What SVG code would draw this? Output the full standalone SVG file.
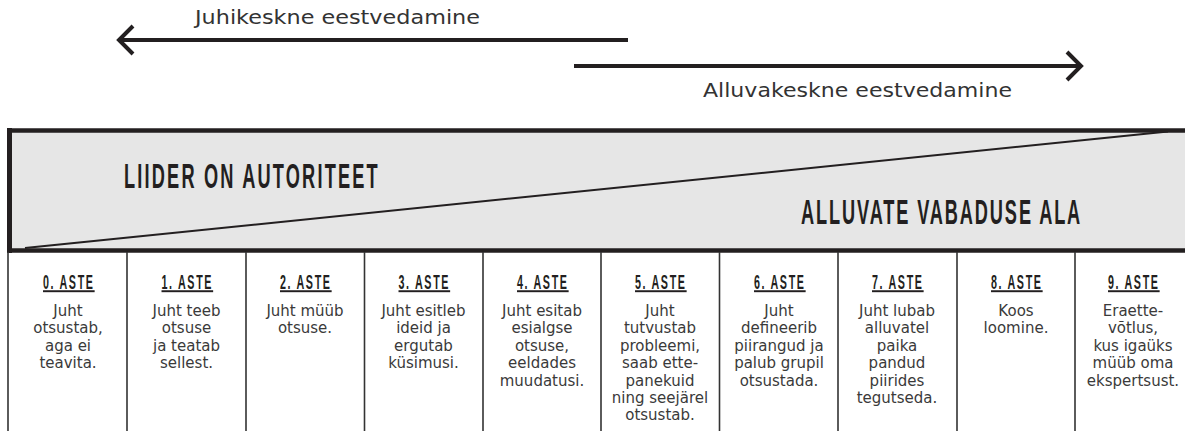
<svg xmlns="http://www.w3.org/2000/svg" width="1185" height="431" viewBox="0 0 1185 431">
<style>
.lbl{font-family:"DejaVu Sans","Liberation Sans",sans-serif;font-size:19px;fill:#333}
.big{font-family:"Liberation Sans",Arial,sans-serif;font-weight:bold;font-size:35px;fill:#231f20}
.hd{font-family:"Liberation Sans",Arial,sans-serif;font-weight:bold;font-size:19.5px;fill:#231f20;text-anchor:middle;text-decoration:underline;letter-spacing:3px}
.bd{font-family:"DejaVu Sans","Liberation Sans",sans-serif;font-size:15px;fill:#3a3a3a;text-anchor:middle}
.col{stroke:#333;stroke-width:1.6}
.arr{stroke:#231f20;stroke-width:4;fill:none;stroke-linecap:butt;stroke-linejoin:miter}
</style>
<rect width="1185" height="431" fill="#fff"/>
<g id="connectors">
  <line class="arr" x1="120" y1="40" x2="628" y2="40"/>
  <polyline class="arr" points="133,26 119,40 133,54"/>
  <line class="arr" x1="574" y1="66" x2="1082" y2="66"/>
  <polyline class="arr" points="1067,52 1081,66 1067,80"/>
</g>
<g id="labels">
  <text class="lbl" x="195" y="24" textLength="285" lengthAdjust="spacingAndGlyphs">Juhikeskne eestvedamine</text>
  <text class="lbl" x="703" y="97" textLength="309" lengthAdjust="spacingAndGlyphs">Alluvakeskne eestvedamine</text>
</g>
<g id="header-box">
  <rect x="9.5" y="130.5" width="1180" height="120" fill="#e6e6e6"/>
  <line x1="25" y1="248" x2="1168" y2="131.5" stroke="#231f20" stroke-width="2"/>
  <line x1="7" y1="130.5" x2="1185" y2="130.5" stroke="#231f20" stroke-width="4.5"/>
  <line x1="7" y1="250.5" x2="1185" y2="250.5" stroke="#231f20" stroke-width="4.5"/>
  <line x1="9.5" y1="128" x2="9.5" y2="253" stroke="#231f20" stroke-width="5"/>
  <text class="big" transform="translate(124,188) scale(0.52,1)" x="0" y="0" letter-spacing="4.2">LIIDER ON AUTORITEET</text>
  <text class="big" transform="translate(801,224) scale(0.52,1)" x="0" y="0" letter-spacing="3.6">ALLUVATE VABADUSE ALA</text>
</g>
<g id="columns-grid">
  <line class="col" x1="8" y1="252" x2="8" y2="431"/>
  <line class="col" x1="127" y1="252" x2="127" y2="431"/>
  <line class="col" x1="246" y1="252" x2="246" y2="431"/>
  <line class="col" x1="364.5" y1="252" x2="364.5" y2="431"/>
  <line class="col" x1="483" y1="252" x2="483" y2="431"/>
  <line class="col" x1="601" y1="252" x2="601" y2="431"/>
  <line class="col" x1="719.5" y1="252" x2="719.5" y2="431"/>
  <line class="col" x1="838" y1="252" x2="838" y2="431"/>
  <line class="col" x1="957" y1="252" x2="957" y2="431"/>
  <line class="col" x1="1075" y1="252" x2="1075" y2="431"/>
</g>
<g id="aste0">
  <text class="hd" transform="translate(68,289) scale(0.55,1)" x="1.5" y="0">0. ASTE</text>
  <text class="bd" y="316"><tspan x="68">Juht</tspan><tspan x="68" dy="17.4">otsustab,</tspan><tspan x="68" dy="17.4">aga ei</tspan><tspan x="68" dy="17.4">teavita.</tspan></text>
</g>
<g id="aste1">
  <text class="hd" transform="translate(186.5,289) scale(0.55,1)" x="1.5" y="0">1. ASTE</text>
  <text class="bd" y="316"><tspan x="186.5">Juht teeb</tspan><tspan x="186.5" dy="17.4">otsuse</tspan><tspan x="186.5" dy="17.4">ja teatab</tspan><tspan x="186.5" dy="17.4">sellest.</tspan></text>
</g>
<g id="aste2">
  <text class="hd" transform="translate(305,289) scale(0.55,1)" x="1.5" y="0">2. ASTE</text>
  <text class="bd" y="316"><tspan x="305">Juht müüb</tspan><tspan x="305" dy="17.4">otsuse.</tspan></text>
</g>
<g id="aste3">
  <text class="hd" transform="translate(423.5,289) scale(0.55,1)" x="1.5" y="0">3. ASTE</text>
  <text class="bd" y="316"><tspan x="423.5">Juht esitleb</tspan><tspan x="423.5" dy="17.4">ideid ja</tspan><tspan x="423.5" dy="17.4">ergutab</tspan><tspan x="423.5" dy="17.4">küsimusi.</tspan></text>
</g>
<g id="aste4">
  <text class="hd" transform="translate(542,289) scale(0.55,1)" x="1.5" y="0">4. ASTE</text>
  <text class="bd" y="316"><tspan x="542">Juht esitab</tspan><tspan x="542" dy="17.4">esialgse</tspan><tspan x="542" dy="17.4">otsuse,</tspan><tspan x="542" dy="17.4">eeldades</tspan><tspan x="542" dy="17.4">muudatusi.</tspan></text>
</g>
<g id="aste5">
  <text class="hd" transform="translate(660,289) scale(0.55,1)" x="1.5" y="0">5. ASTE</text>
  <text class="bd" y="316"><tspan x="660">Juht</tspan><tspan x="660" dy="17.4">tutvustab</tspan><tspan x="660" dy="17.4">probleemi,</tspan><tspan x="660" dy="17.4">saab ette-</tspan><tspan x="660" dy="17.4">panekuid</tspan><tspan x="660" dy="17.4">ning seejärel</tspan><tspan x="660" dy="17.4">otsustab.</tspan></text>
</g>
<g id="aste6">
  <text class="hd" transform="translate(779,289) scale(0.55,1)" x="1.5" y="0">6. ASTE</text>
  <text class="bd" y="316"><tspan x="779">Juht</tspan><tspan x="779" dy="17.4">defineerib</tspan><tspan x="779" dy="17.4">piirangud ja</tspan><tspan x="779" dy="17.4">palub grupil</tspan><tspan x="779" dy="17.4">otsustada.</tspan></text>
</g>
<g id="aste7">
  <text class="hd" transform="translate(897,289) scale(0.55,1)" x="1.5" y="0">7. ASTE</text>
  <text class="bd" y="316"><tspan x="897">Juht lubab</tspan><tspan x="897" dy="17.4">alluvatel</tspan><tspan x="897" dy="17.4">paika</tspan><tspan x="897" dy="17.4">pandud</tspan><tspan x="897" dy="17.4">piirides</tspan><tspan x="897" dy="17.4">tegutseda.</tspan></text>
</g>
<g id="aste8">
  <text class="hd" transform="translate(1016,289) scale(0.55,1)" x="1.5" y="0">8. ASTE</text>
  <text class="bd" y="316"><tspan x="1016">Koos</tspan><tspan x="1016" dy="17.4">loomine.</tspan></text>
</g>
<g id="aste9">
  <text class="hd" transform="translate(1133,289) scale(0.55,1)" x="1.5" y="0">9. ASTE</text>
  <text class="bd" y="316"><tspan x="1133">Eraette-</tspan><tspan x="1133" dy="17.4">võtlus,</tspan><tspan x="1133" dy="17.4">kus igaüks</tspan><tspan x="1133" dy="17.4">müüb oma</tspan><tspan x="1133" dy="17.4">ekspertsust.</tspan></text>
</g>
</svg>
